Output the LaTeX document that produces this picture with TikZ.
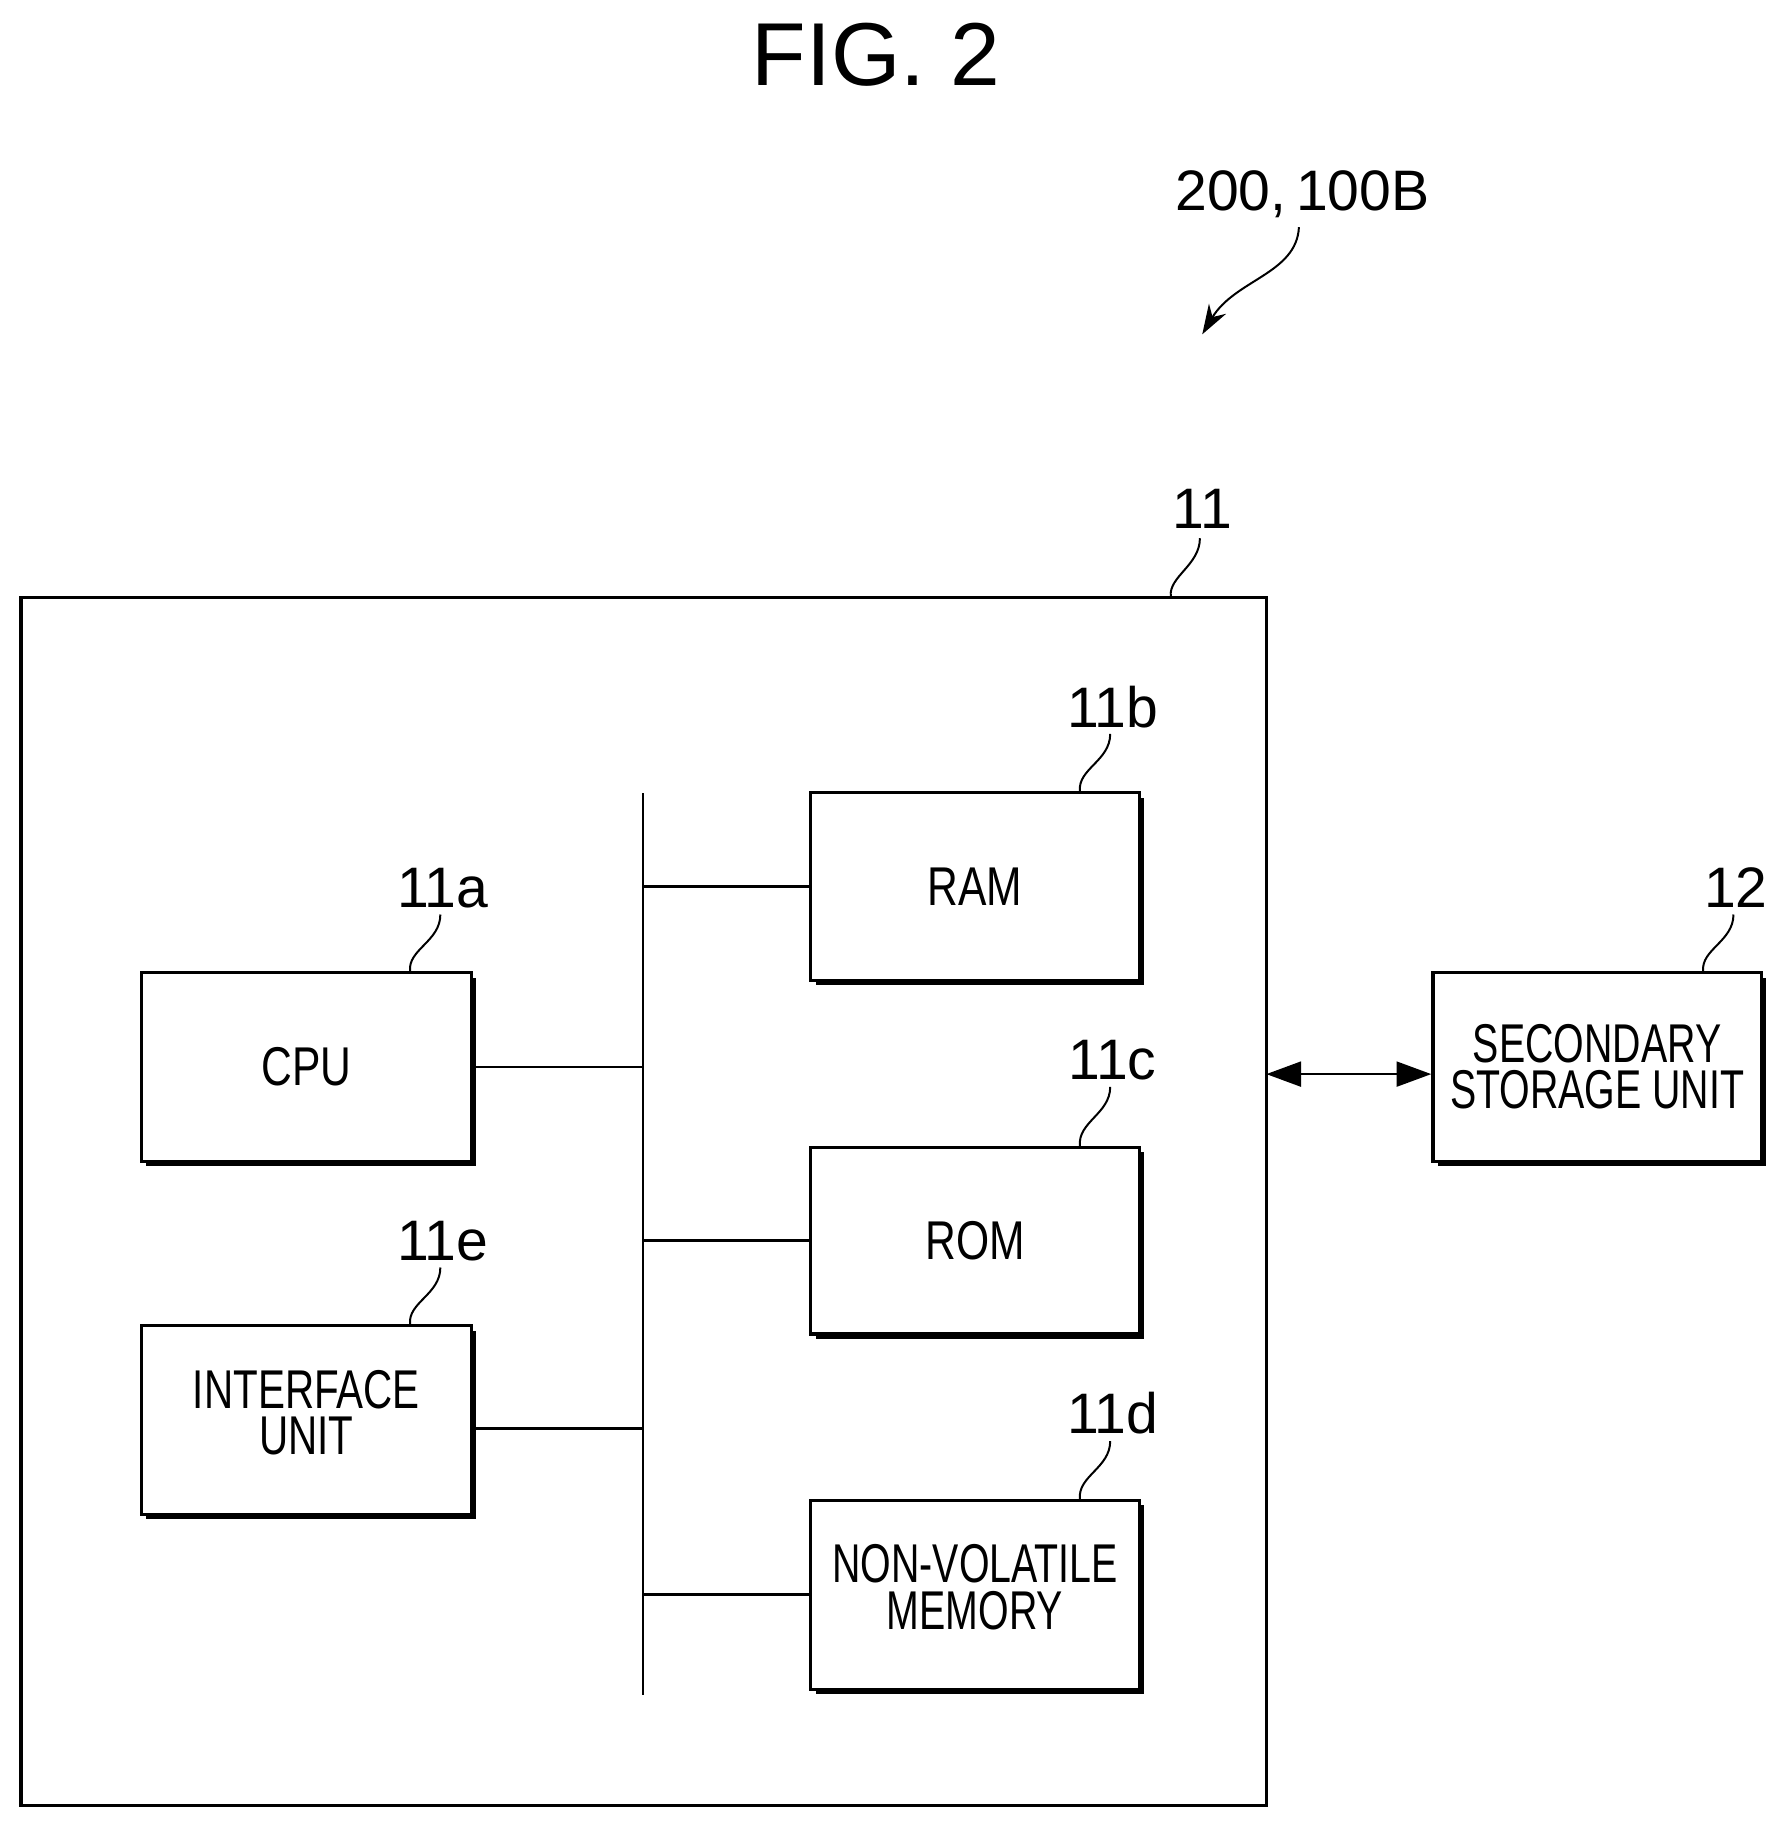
\documentclass[tikz,border=0pt]{standalone}
\usepackage{fontspec}
\setmainfont{Liberation Sans}
\usetikzlibrary{shadows,arrows.meta}
\begin{document}
\begin{tikzpicture}[x=0.0165cm,y=-0.0165cm,
  box/.style={draw,line width=1.3pt,fill=white,drop shadow={shadow xshift=0.07cm,shadow yshift=-0.07cm,fill=black,opacity=1}},
  txt/.style={font=\fontsize{22}{21}\selectfont,align=center},
  lab/.style={font=\fontsize{23}{23}\selectfont},
  ln/.style={line width=1.1pt},
  ld/.style={line width=0.8pt}]
\useasboundingbox (0,0) rectangle (1532,1564);
\node[font=\fontsize{36}{36}\selectfont] (fig) at (752,47) {FIG. 2};
\draw[line width=1.3pt] (18,513) rectangle (1087,1550);
\coordinate (o11) at (1005,512);
\node[box,minimum width=283*0.0165cm,minimum height=162*0.0165cm] (cpu) at (263,916) {};
\node[txt] at (cpu) {\scalebox{0.78}[1]{CPU}};
\node[box,minimum width=283*0.0165cm,minimum height=162*0.0165cm] (ifu) at (263,1219) {};
\node[txt] at (ifu) {\scalebox{0.74}[1]{\begin{tabular}{@{}c@{}}INTERFACE\\[-3pt]UNIT\end{tabular}}};
\node[box,minimum width=282*0.0165cm,minimum height=161*0.0165cm] (ram) at (837,761) {};
\node[txt] at (ram) {\scalebox{0.78}[1]{RAM}};
\node[box,minimum width=282*0.0165cm,minimum height=160*0.0165cm] (rom) at (837,1065) {};
\node[txt] at (rom) {\scalebox{0.78}[1]{ROM}};
\node[box,minimum width=282*0.0165cm,minimum height=162*0.0165cm] (nvm) at (837,1369) {};
\node[txt] at (nvm) {\scalebox{0.72}[1]{\begin{tabular}{@{}c@{}}NON-VOLATILE\\[-3pt]MEMORY\end{tabular}}};
\node[box,minimum width=282*0.0165cm,minimum height=162*0.0165cm] (ssu) at (1371,916) {};
\node[txt] at ([yshift=-0.1cm]ssu.center) {\scalebox{0.72}[1]{\begin{tabular}{@{}c@{}}SECONDARY\\[-3pt]STORAGE UNIT\end{tabular}}};
\coordinate (bt) at (552,681); \coordinate (bb) at (552,1455);
\draw[ln] (bt) -- (bb);
\draw[ln] (cpu.east) -- (cpu.east -| bt);
\draw[ln] (ifu.east |- 0,1226) -- (552,1226);
\draw[ln] (ram.west) -- (ram.west -| bt);
\draw[ln] (rom.west) -- (rom.west -| bt);
\draw[ln] (nvm.west) -- (nvm.west -| bt);
\coordinate (wall) at (1087,922);
\draw[ln,{Triangle[length=14pt,width=10pt]}-{Triangle[length=14pt,width=10pt]}] (wall) -- (ssu.west |- wall);
% labels
\node[lab] (l11) at (1032,437) {11};
\node[lab] (l11a) at (380,762) {11a};
\node[lab] (l11b) at (955,607) {11b};
\node[lab] (l11c) at (955,910) {11c};
\node[lab] (l11d) at (955,1213) {11d};
\node[lab] (l11e) at (380,1065) {11e};
\node[lab] (l12) at (1490,762) {12};
\node[font=\fontsize{23}{23}\selectfont] (l200) at (1118,167) {200,\,100B};
\draw[ld] (o11) .. controls (1003,495) and (1030,485) .. (1030,462);
\draw[ld] ([xshift=89*0.0165cm]cpu.north) .. controls (350,815) and (378,808) .. (378,785);
\draw[ld] ([xshift=89*0.0165cm]ifu.north) .. controls (350,1118) and (378,1111) .. (378,1088);
\draw[ld] ([xshift=90*0.0165cm]ram.north) .. controls (925,660) and (953,653) .. (953,630);
\draw[ld] ([xshift=90*0.0165cm]rom.north) .. controls (925,963) and (953,956) .. (953,933);
\draw[ld] ([xshift=90*0.0165cm]nvm.north) .. controls (925,1267) and (953,1260) .. (953,1237);
\draw[ld] ([xshift=91*0.0165cm]ssu.north) .. controls (1460,815) and (1488,808) .. (1488,785);
\coordinate (tip) at (1032,287);
\draw[ld,-{Stealth[length=12pt,width=8pt]}] (1115,195) .. controls (1113,235) and (1060,240) .. (tip);
\end{tikzpicture}
\end{document}
